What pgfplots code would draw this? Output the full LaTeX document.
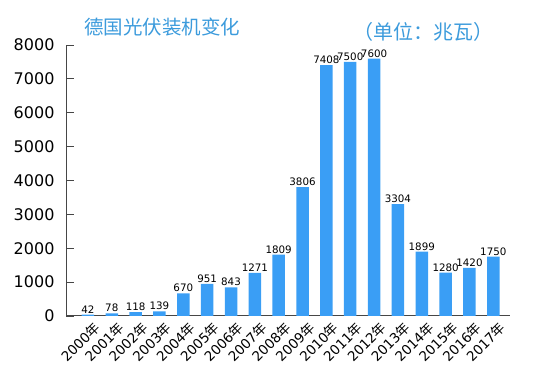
\documentclass[border=0pt]{standalone}
\usepackage{pgfplots}
\pgfplotsset{compat=1.18}
\usepackage{fontspec}
\setmainfont{DejaVu Sans}
\newfontfamily\cjk{Noto Sans CJK SC}
\definecolor{barblue}{RGB}{58,158,245}
\definecolor{titleblue}{RGB}{60,155,220}
\definecolor{axgray}{RGB}{70,70,70}
\begin{document}
\begin{tikzpicture}
\useasboundingbox (0pt,0pt) rectangle (554pt,377pt);
\begin{axis}[
  at={(66pt,61pt)}, anchor=south west,
  scale only axis, width=444pt, height=271pt,
  xmin=-0.92, xmax=17.7, ymin=0, ymax=8000,
  axis x line*=bottom, axis y line*=left,
  axis line style={axgray, line width=1pt},
  ytick={0,1000,...,8000},
  yticklabel style={font=\fontsize{16}{16}\selectfont, xshift=-8pt},
  /pgf/number format/assume math mode=true,
  /pgf/number format/1000 sep={},
  scaled y ticks=false,
  major tick length=8pt,
  ytick style={axgray, line width=0.8pt},
  tick align=inside,
  xtick=data, xtick style={draw=none},
  xticklabels={2000{\cjk 年},2001{\cjk 年},2002{\cjk 年},2003{\cjk 年},2004{\cjk 年},2005{\cjk 年},2006{\cjk 年},2007{\cjk 年},2008{\cjk 年},2009{\cjk 年},2010{\cjk 年},2011{\cjk 年},2012{\cjk 年},2013{\cjk 年},2014{\cjk 年},2015{\cjk 年},2016{\cjk 年},2017{\cjk 年}},
  xticklabel style={rotate=45, anchor=north east, inner sep=1pt, font=\fontsize{13.5}{14}\selectfont, xshift=7pt, yshift=0pt},
  ybar, bar width=12.5pt,
  nodes near coords,
  nodes near coords style={font=\fontsize{10.3}{11}\selectfont, text=black, inner sep=1.2pt},
  clip=false,
]
\addplot[fill=barblue, draw=none] coordinates {
(0,42) (1,78) (2,118) (3,139) (4,670) (5,951) (6,843) (7,1271) (8,1809)
(9,3806) (10,7408) (11,7500) (12,7600) (13,3304) (14,1899) (15,1280) (16,1420) (17,1750)};
\end{axis}
\node[anchor=west, text=titleblue, font=\cjk\fontsize{19.5}{20}\selectfont, inner sep=0pt] at (84pt,350pt) {德国光伏装机变化};
\node[anchor=west, text=titleblue, font=\cjk\fontsize{20}{20}\selectfont, inner sep=0pt] at (353pt,345.5pt) {（单位：兆瓦）};
\end{tikzpicture}
\end{document}
